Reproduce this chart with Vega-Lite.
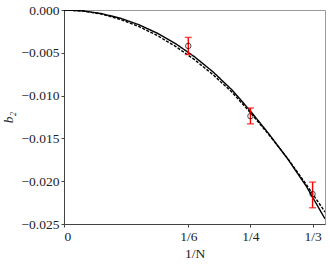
{
  "$schema": "https://vega.github.io/schema/vega-lite/v6.json",
  "autosize": {"type": "none"},
  "padding": {"left": 64, "top": 10, "right": 5, "bottom": 41},
  "width": 261,
  "height": 214,
  "config": {
    "font": "Liberation Serif",
    "view": {"stroke": "#999", "strokeWidth": 1},
    "axis": {
      "grid": false,
      "domainColor": "#444",
      "tickColor": "#444",
      "tickSize": 3,
      "labelFont": "Liberation Serif",
      "labelFontSize": 13.5,
      "labelColor": "#222",
      "titleFont": "Liberation Serif",
      "titleFontSize": 13.5,
      "titleFontWeight": "normal",
      "titleColor": "#222",
      "labelPadding": 2
    }
  },
  "datasets": {
    "curves": [
      {"x": 0, "b": 0, "s": "a"},
      {"x": 0.025, "b": -0.000102, "s": "a"},
      {"x": 0.05, "b": -0.000413, "s": "a"},
      {"x": 0.075, "b": -0.000944, "s": "a"},
      {"x": 0.1, "b": -0.001705, "s": "a"},
      {"x": 0.125, "b": -0.002705, "s": "a"},
      {"x": 0.15, "b": -0.003954, "s": "a"},
      {"x": 0.175, "b": -0.005463, "s": "a"},
      {"x": 0.2, "b": -0.00724, "s": "a"},
      {"x": 0.225, "b": -0.00932, "s": "a"},
      {"x": 0.25, "b": -0.0118, "s": "a"},
      {"x": 0.275, "b": -0.0145, "s": "a"},
      {"x": 0.3, "b": -0.0174, "s": "a"},
      {"x": 0.325, "b": -0.0206, "s": "a"},
      {"x": 0.35, "b": -0.0244, "s": "a"},
      {"x": 0, "b": 0, "s": "b"},
      {"x": 0.025, "b": -0.00012, "s": "b"},
      {"x": 0.05, "b": -0.00048, "s": "b"},
      {"x": 0.075, "b": -0.00108, "s": "b"},
      {"x": 0.1, "b": -0.00192, "s": "b"},
      {"x": 0.125, "b": -0.00298, "s": "b"},
      {"x": 0.15, "b": -0.00428, "s": "b"},
      {"x": 0.175, "b": -0.0058, "s": "b"},
      {"x": 0.2, "b": -0.00757, "s": "b"},
      {"x": 0.225, "b": -0.00958, "s": "b"},
      {"x": 0.25, "b": -0.012, "s": "b"},
      {"x": 0.275, "b": -0.0146, "s": "b"},
      {"x": 0.3, "b": -0.01735, "s": "b"},
      {"x": 0.325, "b": -0.0204, "s": "b"},
      {"x": 0.35, "b": -0.0236, "s": "b"}
    ],
    "points": [
      {"x": 0.166667, "b": -0.0042, "lo": -0.0052, "hi": -0.0032},
      {"x": 0.25, "b": -0.0124, "lo": -0.0133, "hi": -0.01145},
      {"x": 0.333333, "b": -0.0215, "lo": -0.0231, "hi": -0.0201}
    ]
  },
  "encoding": {
    "x": {
      "field": "x",
      "type": "quantitative",
      "scale": {"domain": [0, 0.35], "nice": false},
      "axis": {
        "title": "1/N",
        "titlePadding": 4,
        "values": [0, 0.166667, 0.25, 0.333333],
        "labelExpr": "datum.value < 0.01 ? '0' : datum.value < 0.2 ? '1/6' : datum.value < 0.3 ? '1/4' : '1/3'"
      }
    }
  },
  "layer": [
    {
      "data": {"name": "curves"},
      "mark": {"type": "line", "color": "black", "strokeWidth": 1.4, "clip": true},
      "encoding": {
        "y": {
          "field": "b",
          "type": "quantitative",
          "scale": {"domain": [-0.025, 0], "nice": false},
          "axis": {
            "title": "b₂",
            "titleFontStyle": "italic",
            "titlePadding": 6,
            "values": [0, -0.005, -0.01, -0.015, -0.02, -0.025],
            "format": ".3f"
          }
        },
        "strokeDash": {
          "field": "s",
          "type": "nominal",
          "scale": {"domain": ["a", "b"], "range": [[1, 0], [3, 1.5]]},
          "legend": null
        }
      }
    },
    {
      "data": {"name": "points"},
      "mark": {"type": "errorbar", "color": "red", "ticks": {"size": 7, "color": "red"}, "thickness": 1.4},
      "encoding": {
        "y": {"field": "lo", "type": "quantitative", "title": "b₂"},
        "y2": {"field": "hi"}
      }
    },
    {
      "data": {"name": "points"},
      "mark": {"type": "point", "shape": "circle", "filled": false, "color": "black", "size": 30, "strokeWidth": 1},
      "encoding": {
        "y": {"field": "b", "type": "quantitative"}
      }
    }
  ]
}
